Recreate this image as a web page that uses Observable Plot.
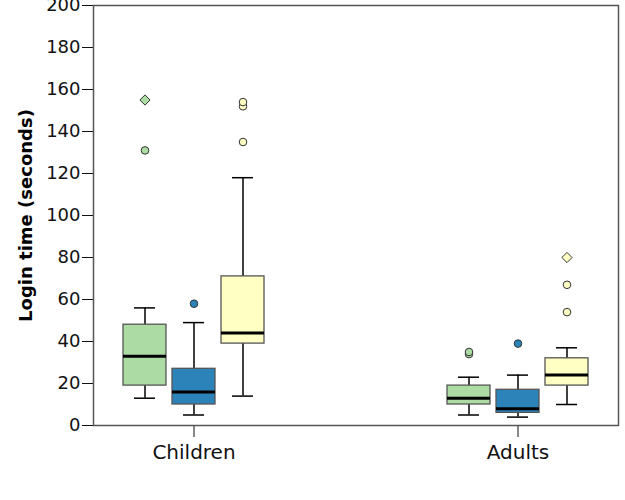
<!DOCTYPE html>
<html>
<head>
<meta charset="utf-8">
<script src="https://cdn.jsdelivr.net/npm/d3@7"></script>
<script src="https://cdn.jsdelivr.net/npm/@observablehq/plot@0.6"></script>
<style>
  html, body { margin: 0; padding: 0; background: #fff; }
  #chart { width: 625px; height: 500px; }
</style>
</head>
<body>
<div id="chart"></div>
<script>
// ---- data ----
const categories = ["Children", "Adults"];
const groups = ["Group 1", "Group 2", "Group 3"];
const groupColors = ["#acdca4", "#2b83ba", "#ffffc4"];
const yTicks = [0, 20, 40, 60, 80, 100, 120, 140, 160, 180, 200];

// per group, values for [Children, Adults]
const lowerWhisker = { "Group 1": [13, 5],  "Group 2": [5, 4],   "Group 3": [14, 10] };
const quartile1    = { "Group 1": [19, 10], "Group 2": [10, 6],  "Group 3": [39, 19] };
const medians      = { "Group 1": [33, 13], "Group 2": [16, 8],  "Group 3": [44, 24] };
const quartile3    = { "Group 1": [48, 19], "Group 2": [27, 17], "Group 3": [71, 32] };
const upperWhisker = { "Group 1": [56, 23], "Group 2": [49, 24], "Group 3": [118, 37] };

const outlierCategory = ["Children", "Adults", "Adults", "Children", "Adults", "Children", "Children", "Children", "Adults", "Adults"];
const outlierGroup    = ["Group 1", "Group 1", "Group 1", "Group 2", "Group 2", "Group 3", "Group 3", "Group 3", "Group 3", "Group 3"];
const outlierValue    = [131, 34, 35, 58, 39, 135, 152, 154, 54, 67];

const extremeCategory = ["Children", "Adults"];
const extremeGroup    = ["Group 1", "Group 3"];
const extremeValue    = [155, 80];

// ---- tables ----
const boxes = [];
groups.forEach(g => categories.forEach((c, i) => boxes.push({
  category: c, group: g,
  low: lowerWhisker[g][i], q1: quartile1[g][i], median: medians[g][i],
  q3: quartile3[g][i], high: upperWhisker[g][i]
})));
const outliers = outlierValue.map((v, i) => ({ category: outlierCategory[i], group: outlierGroup[i], value: v }));
const extremes = extremeValue.map((v, i) => ({ category: extremeCategory[i], group: extremeGroup[i], value: v }));

// layout offsets of each group's box within a category band
const groupOffset = { "Group 1": -49, "Group 2": 0, "Group 3": 49 };

const marks = [];
groups.forEach(g => {
  const b = boxes.filter(d => d.group === g);
  const o = outliers.filter(d => d.group === g);
  const e = extremes.filter(d => d.group === g);
  const dx = groupOffset[g];
  marks.push(
    Plot.ruleX(b, { x: "category", y1: "low", y2: "high", dx, stroke: "black", strokeWidth: 1.5 }),
    Plot.tickY(b, { x: "category", y: "low", dx, insetLeft: 89, insetRight: 89, stroke: "black", strokeWidth: 1.5 }),
    Plot.tickY(b, { x: "category", y: "high", dx, insetLeft: 89, insetRight: 89, stroke: "black", strokeWidth: 1.5 }),
    Plot.barY(b, { x: "category", y1: "q1", y2: "q3", dx, insetLeft: 78, insetRight: 78, fill: "group", stroke: "#555", strokeWidth: 1.3 }),
    Plot.tickY(b, { x: "category", y: "median", dx, insetLeft: 78, insetRight: 78, stroke: "black", strokeWidth: 3 }),
    Plot.dot(o, { x: "category", y: "value", dx, r: 3.8, fill: "group", stroke: "#333", strokeWidth: 1 }),
    Plot.dot(e, { x: "category", y: "value", dx, r: 4.6, symbol: "diamond2", fill: "group", stroke: "#333", strokeWidth: 1 })
  );
});

const hasAxisMarks = typeof Plot.axisX === "function";
const axisMarks = hasAxisMarks ? [
  Plot.axisX({ tickSize: 12, tickPadding: 7, fontSize: 20, label: null }),
  Plot.axisY({ ticks: yTicks, tickSize: 11, tickPadding: 2, fontSize: 18, label: null })
] : [];

const plot = Plot.plot({
  width: 625,
  height: 500,
  marginLeft: 93,
  marginRight: 7,
  marginTop: 5,
  marginBottom: 75,
  style: { fontFamily: "DejaVu Sans", fontSize: "18px", color: "#111", background: "#fff" },
  x: { domain: categories, paddingInner: 0.3846, paddingOuter: 0, tickSize: 12, tickPadding: 7, label: null },
  y: { domain: [0, 200], ticks: yTicks, tickSize: 11, tickPadding: 2, label: null },
  color: { domain: groups, range: groupColors },
  marks: [
    ...marks,
    ...axisMarks,
    Plot.frame({ stroke: "#555", strokeWidth: 1.5 }),
    Plot.ruleX([0], { frameAnchor: "left", y1: 0, y2: 200, stroke: "black", strokeWidth: 1 }),
    Plot.text(["Login time (seconds)"], { frameAnchor: "left", textAnchor: "middle", rotate: -90, dx: -67, fontWeight: "bold", fontSize: 18, fill: "black" })
  ]
});
document.getElementById("chart").appendChild(plot);
</script>
</body>
</html>
